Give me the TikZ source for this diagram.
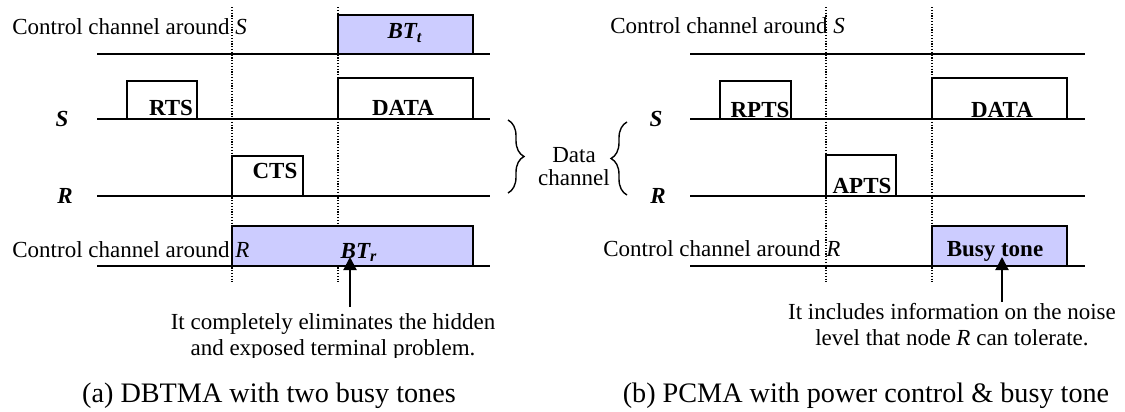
\documentclass[tikz,border=0pt]{standalone}
\usepackage{fontspec}
\setmainfont{Liberation Serif}
\usetikzlibrary{arrows.meta,decorations.pathreplacing}
\definecolor{lav}{HTML}{CCCCFF}
\begin{document}
\begin{tikzpicture}[x=0.5pt,y=-0.5pt,
  tl/.style={line width=1pt},
  dotl/.style={line width=0.6pt,dash pattern=on 0.6pt off 0.8pt},
  box/.style={draw,line width=1pt,anchor=south west,inner sep=0pt,outer sep=0pt},
  tone/.style={box,fill=lav},
  lbl/.style={font=\fontsize{11.5}{13}\selectfont,anchor=base,inner sep=0pt},
  blbl/.style={lbl,font=\fontsize{11.5}{13}\selectfont\bfseries},
  ann/.style={lbl,align=center},
  captxt/.style={font=\fontsize{14.1}{16}\selectfont,anchor=base,inner sep=0pt},
  arr/.style={line width=1pt,-{Triangle[length=6.5pt,width=6.5pt]}},
  brc/.style={decorate,decoration={brace,amplitude=8pt},line width=0.7pt}
]
\useasboundingbox (0,0) rectangle (1125,412);

% ---------------- left panel ----------------
\coordinate (dL1t) at (232,7);  \coordinate (dL1b) at (232,282);
\coordinate (dL2t) at (338,7);  \coordinate (dL2b) at (338,282);
\draw[dotl] (dL1t) -- (dL1b);
\draw[dotl] (dL2t) -- (dL2b);

\node[tone,minimum width=67.5pt,minimum height=19.5pt] (btt) at (338,54) {};
\node[box,minimum width=35pt,minimum height=19pt] (rts) at (127,119) {};
\node[box,minimum width=67.5pt,minimum height=20.5pt] (dataL) at (338,119) {};
\node[box,minimum width=35.5pt,minimum height=20pt] (cts) at (232,196) {};
\node[tone,minimum width=120.5pt,minimum height=20pt] (btr) at (232,266) {};

\coordinate (lL1a) at (97,54);  \coordinate (lL1b) at (490,54);
\coordinate (lL2a) at (97,119); \coordinate (lL2b) at (490,119);
\coordinate (lL3a) at (97,196); \coordinate (lL3b) at (490,196);
\coordinate (lL4a) at (97,266); \coordinate (lL4b) at (490,266);
\draw[tl] (lL1a) -- (lL1b);
\draw[tl] (lL2a) -- (lL2b);
\draw[tl] (lL3a) -- (lL3b);
\draw[tl] (lL4a) -- (lL4b);

\node[lbl,anchor=base west] (cSL) at (12,34) {Control channel around \textit{S}};
\node[lbl,anchor=base west] (cRL) at (12,257) {Control channel around \textit{R}};
\node[blbl] (SL) at (62,126) {\textit{S}};
\node[blbl] (RL) at (65,203) {\textit{R}};
\node[blbl] (bttl) at (405,39) {\textit{BT\textsubscript{t}}};
\node[blbl] (rtsl) at (171,115) {RTS};
\node[blbl] (dataLl) at (403,115) {DATA};
\node[blbl] (ctsl) at (275,178) {CTS};
\node[blbl] (btrl) at (359,258) {\textit{BT\textsubscript{r}}};

\begin{scope}
\clip (100,290) rectangle (560,357);
\node[ann] (annL) at (333,355) {It completely eliminates the hidden\\and exposed terminal problem.};
\end{scope}
\coordinate (aLb) at (350,307); \coordinate (aLt) at (350,257);
\draw[arr] (aLb) -- (aLt);

\node[captxt] (capL) at (269,402) {(a) DBTMA with two busy tones};

% ---------------- middle braces ----------------
\coordinate (bLt) at (508,120); \coordinate (bLb) at (508,193);
\draw[brc] (bLt) -- (bLb);
\coordinate (bRt) at (627,122); \coordinate (bRb) at (627,195);
\draw[brc] (bRb) -- (bRt);
\node[lbl,align=center,font=\fontsize{11.5}{11.5}\selectfont] (dch) at (574,185) {Data\\channel};

% ---------------- right panel ----------------
\coordinate (dR1t) at (826,7);  \coordinate (dR1b) at (826,282);
\coordinate (dR2t) at (932,7);  \coordinate (dR2b) at (932,282);
\draw[dotl] (dR1t) -- (dR1b);
\draw[dotl] (dR2t) -- (dR2b);

\node[box,minimum width=35.5pt,minimum height=19pt] (rpts) at (720,119) {};
\node[box,minimum width=67.5pt,minimum height=20.5pt] (dataR) at (932,119) {};
\node[box,minimum width=35pt,minimum height=20.5pt] (apts) at (826,196) {};
\node[tone,minimum width=67.5pt,minimum height=20pt] (busy) at (932,266) {};

\coordinate (lR1a) at (690,54);  \coordinate (lR1b) at (1085,54);
\coordinate (lR2a) at (690,119); \coordinate (lR2b) at (1085,119);
\coordinate (lR3a) at (690,196); \coordinate (lR3b) at (1085,196);
\coordinate (lR4a) at (690,266); \coordinate (lR4b) at (1085,266);
\draw[tl] (lR1a) -- (lR1b);
\draw[tl] (lR2a) -- (lR2b);
\draw[tl] (lR3a) -- (lR3b);
\draw[tl] (lR4a) -- (lR4b);

\node[lbl,anchor=base west] (cSR) at (610,33) {Control channel around \textit{S}};
\node[lbl,anchor=base west] (cRR) at (603,256) {Control channel around \textit{R}};
\node[blbl] (SR) at (656,126) {\textit{S}};
\node[blbl] (RR) at (658,203) {\textit{R}};
\node[blbl] (rptsl) at (760,117) {RPTS};
\node[blbl] (dataRl) at (1002,117) {DATA};
\node[blbl] (aptsl) at (862,193) {APTS};
\node[blbl] (busyl) at (995,256) {Busy tone};

\begin{scope}
\clip (700,290) rectangle (1125,346);
\node[ann] (annR) at (952,345) {It includes information on the noise\\level that node \textit{R} can tolerate.};
\end{scope}
\coordinate (aRb) at (1002,302); \coordinate (aRt) at (1002,257);
\draw[arr] (aRb) -- (aRt);

\node[captxt] (capR) at (866,402) {(b) PCMA with power control \& busy tone};
\end{tikzpicture}
\end{document}
